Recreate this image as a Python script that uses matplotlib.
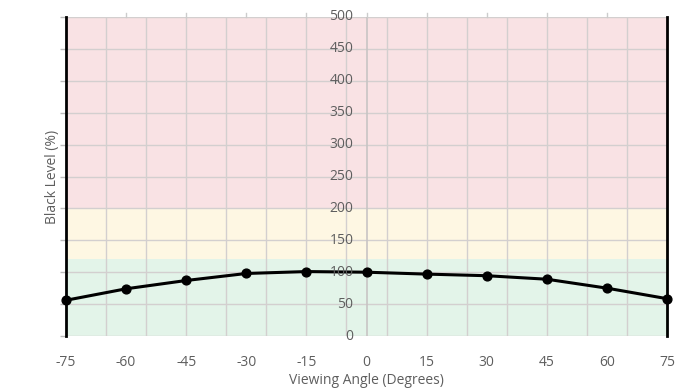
import numpy as np
import matplotlib
matplotlib.use("Agg")
import matplotlib.pyplot as plt

# viewing angle vs black level
angles = [-75, -60, -45, -30, -15, 0, 15, 30, 45, 60, 75]
black_level = [56, 74, 87, 98, 101, 100, 97, 94.5, 89, 75, 58.5]

y_ticks = [0, 50, 100, 150, 200, 250, 300, 350, 400, 450, 500]
x_ticks = [-75, -60, -45, -30, -15, 0, 15, 30, 45, 60, 75]
x_grid = [-65, -55, -45, -35, -25, -15, -5, 5, 15, 25, 35, 45, 55, 65]

# zones: (low, high, colour)
zones = [(0, 120, "#e3f4e9"), (120, 200, "#fef7e3"), (200, 500, "#f9e2e4")]

plt.rcParams['font.family'] = ['Open Sans', 'DejaVu Sans']
txt = "#5e5e5e"
fs = 10

fig = plt.figure(figsize=(6.92, 3.9), dpi=100)
ax = fig.add_axes([66/692, 1 - 336/390, 601/692, 319/390])

for lo, hi, c in zones:
    ax.axhspan(lo, hi, color=c, zorder=0, lw=0)

for v in y_ticks:
    ax.axhline(v, color="#d3cfcf", lw=1, zorder=1)
for v in x_grid:
    ax.axvline(v, color="#d3cfcf", lw=1, zorder=1)
ax.axvline(0, color="#c8c4c4", lw=1.2, zorder=1)

ax.plot(angles, black_level, color="black", lw=2.2, zorder=3)
ax.scatter(angles, black_level, s=40, color="black", zorder=4, clip_on=False)

ax.set_xlim(-75, 75)
ax.set_ylim(0, 500)

for s in ["top", "bottom"]:
    ax.spines[s].set_visible(False)
for s in ["left", "right"]:
    ax.spines[s].set_color("black")
    ax.spines[s].set_linewidth(2)

ax.set_xticks(x_ticks)
ax.set_xticklabels([str(v) for v in x_ticks], color=txt, fontsize=fs)
ax.tick_params(axis="x", which="both", length=0, pad=14)
ax.set_yticks(y_ticks)
ax.set_yticklabels([])
ax.tick_params(axis="y", length=4, color="#bbbbbb", width=1)

# top tick marks
for v in x_ticks[1:-1]:
    ax.plot([v, v], [500, 506], color="#cccccc", lw=1, clip_on=False, zorder=2)

for v in y_ticks:
    ax.annotate(str(v), (0, v), xytext=(-9.5, 0), textcoords="offset points",
                ha="right", va="center", color=txt, fontsize=fs, zorder=5)

ax.set_xlabel("Viewing Angle (Degrees)", color=txt, fontsize=fs, labelpad=2)
ax.set_ylabel("Black Level (%)", color=txt, fontsize=fs, labelpad=-3)

fig.savefig("out.png", dpi=100)
